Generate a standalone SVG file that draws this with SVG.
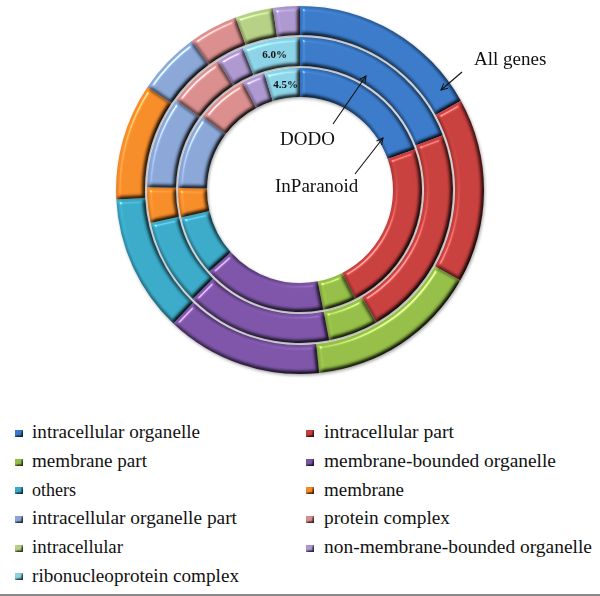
<svg xmlns="http://www.w3.org/2000/svg" width="600" height="596" viewBox="0 0 600 596">
<style>
text{font-family:"Liberation Serif","Times New Roman",serif;fill:#111}
.lg{font-size:18px}
.lab{font-size:19px}
.pct{font-size:11px;font-weight:bold}
.seg{filter:url(#bv)}
.sq{filter:url(#bvs)}
.c1{fill:#3A7AC9}.c2{fill:#C8403E}.c3{fill:#94BE46}.c4{fill:#7D55A8}.c5{fill:#3AAAC8}.c6{fill:#F58C2A}
.c7{fill:#8AA6D6}.c8{fill:#D98D8D}.c9{fill:#B5D084}.c10{fill:#AD97CF}.c11{fill:#8CD2E6}
.ar{stroke:#111;stroke-width:1.1;fill:none;marker-end:url(#ah)}
</style>
<defs>
<filter id="bv" x="-10%" y="-10%" width="120%" height="120%" color-interpolation-filters="sRGB">
<feGaussianBlur in="SourceAlpha" stdDeviation="2.2" result="b"/>
<feDiffuseLighting in="b" surfaceScale="4" diffuseConstant="1.155" lighting-color="#fff" result="d">
<feDistantLight azimuth="225" elevation="60"/>
</feDiffuseLighting>
<feComposite in="SourceGraphic" in2="d" operator="arithmetic" k1="1" result="sh"/>
<feSpecularLighting in="b" surfaceScale="4" specularConstant="0.45" specularExponent="40" lighting-color="#fff" result="s">
<feDistantLight azimuth="225" elevation="40"/>
</feSpecularLighting>
<feComposite in="s" in2="SourceAlpha" operator="in" result="si"/>
<feComposite in="sh" in2="si" operator="arithmetic" k2="1" k3="1"/>
</filter>
<filter id="bvs" x="-20%" y="-20%" width="140%" height="140%" color-interpolation-filters="sRGB">
<feGaussianBlur in="SourceAlpha" stdDeviation="0.8" result="b"/>
<feDiffuseLighting in="b" surfaceScale="2" diffuseConstant="1.155" lighting-color="#fff" result="d">
<feDistantLight azimuth="225" elevation="60"/>
</feDiffuseLighting>
<feComposite in="SourceGraphic" in2="d" operator="arithmetic" k1="1"/>
</filter>
<filter id="ds" x="-10%" y="-10%" width="120%" height="120%">
<feDropShadow dx="1" dy="1.5" stdDeviation="1.8" flood-color="#000" flood-opacity="0.35"/>
</filter>
<marker id="ah" viewBox="0 0 10 10" refX="9" refY="5" markerWidth="8" markerHeight="8" markerUnits="userSpaceOnUse" orient="auto">
<path d="M1,1 L9,5 L1,9" fill="none" stroke="#111" stroke-width="1.3"/>
</marker>
</defs>
<rect width="600" height="596" fill="#fff"/>
<g id="chart" filter="url(#ds)">
<g id="ring-all-genes">
<path class="seg c1" d="M300,6 A184,184 0 0 1 460.9,100.8 L435.6,114.9 A155,155 0 0 0 300,35 Z"/>
<path class="seg c2" d="M460.9,100.8 A184,184 0 0 1 460.2,280.6 L434.9,266.3 A155,155 0 0 0 435.6,114.9 Z"/>
<path class="seg c3" d="M460.2,280.6 A184,184 0 0 1 319.2,373 L316.2,344.1 A155,155 0 0 0 434.9,266.3 Z"/>
<path class="seg c4" d="M319.2,373 A184,184 0 0 1 173.3,323.5 L193.3,302.4 A155,155 0 0 0 316.2,344.1 Z"/>
<path class="seg c5" d="M173.3,323.5 A184,184 0 0 1 116.3,199.6 L145.2,198.1 A155,155 0 0 0 193.3,302.4 Z"/>
<path class="seg c6" d="M116.3,199.6 A184,184 0 0 1 147.5,87.1 L171.5,103.3 A155,155 0 0 0 145.2,198.1 Z"/>
<path class="seg c7" d="M147.5,87.1 A184,184 0 0 1 191.8,41.1 L208.9,64.6 A155,155 0 0 0 171.5,103.3 Z"/>
<path class="seg c8" d="M191.8,41.1 A184,184 0 0 1 235.6,17.6 L245.7,44.8 A155,155 0 0 0 208.9,64.6 Z"/>
<path class="seg c9" d="M235.6,17.6 A184,184 0 0 1 272.8,8 L277.1,36.7 A155,155 0 0 0 245.7,44.8 Z"/>
<path class="seg c10" d="M272.8,8 A184,184 0 0 1 300,6 L300,35 A155,155 0 0 0 277.1,36.7 Z"/>
</g>
<g id="ring-dodo">
<path class="seg c1" d="M300,37 A153,153 0 0 1 442.8,135.2 L415.8,145.6 A124,124 0 0 0 300,66 Z"/>
<path class="seg c2" d="M442.8,135.2 A153,153 0 0 1 376.5,322.5 L362,297.4 A124,124 0 0 0 415.8,145.6 Z"/>
<path class="seg c3" d="M376.5,322.5 A153,153 0 0 1 329.2,340.2 L323.7,311.7 A124,124 0 0 0 362,297.4 Z"/>
<path class="seg c4" d="M329.2,340.2 A153,153 0 0 1 192.8,299.1 L213.1,278.4 A124,124 0 0 0 323.7,311.7 Z"/>
<path class="seg c5" d="M192.8,299.1 A153,153 0 0 1 150.6,223.1 L178.9,216.8 A124,124 0 0 0 213.1,278.4 Z"/>
<path class="seg c6" d="M150.6,223.1 A153,153 0 0 1 147,187.3 L176,187.8 A124,124 0 0 0 178.9,216.8 Z"/>
<path class="seg c7" d="M147,187.3 A153,153 0 0 1 176.2,100.1 L199.7,117.1 A124,124 0 0 0 176,187.8 Z"/>
<path class="seg c8" d="M176.2,100.1 A153,153 0 0 1 217.8,61 L233.4,85.4 A124,124 0 0 0 199.7,117.1 Z"/>
<path class="seg c10" d="M217.8,61 A153,153 0 0 1 242.7,48.1 L253.5,75 A124,124 0 0 0 233.4,85.4 Z"/>
<path class="seg c11" d="M242.7,48.1 A153,153 0 0 1 300,37 L300,66 A124,124 0 0 0 253.5,75 Z"/>
</g>
<g id="ring-inparanoid">
<path class="seg c1" d="M300,68 A122,122 0 0 1 415,149.3 L387.7,159 A93,93 0 0 0 300,97 Z"/>
<path class="seg c2" d="M415,149.3 A122,122 0 0 1 355.4,298.7 L342.2,272.9 A93,93 0 0 0 387.7,159 Z"/>
<path class="seg c3" d="M355.4,298.7 A122,122 0 0 1 323.3,309.8 L317.7,281.3 A93,93 0 0 0 342.2,272.9 Z"/>
<path class="seg c4" d="M323.3,309.8 A122,122 0 0 1 209.3,271.6 L230.9,252.2 A93,93 0 0 0 317.7,281.3 Z"/>
<path class="seg c5" d="M209.3,271.6 A122,122 0 0 1 181.1,217.5 L209.4,210.9 A93,93 0 0 0 230.9,252.2 Z"/>
<path class="seg c6" d="M181.1,217.5 A122,122 0 0 1 178,187.9 L207,188.4 A93,93 0 0 0 209.4,210.9 Z"/>
<path class="seg c7" d="M178,187.9 A122,122 0 0 1 202.6,116.6 L225.7,134 A93,93 0 0 0 207,188.4 Z"/>
<path class="seg c8" d="M202.6,116.6 A122,122 0 0 1 242.7,82.3 L256.3,107.9 A93,93 0 0 0 225.7,134 Z"/>
<path class="seg c10" d="M242.7,82.3 A122,122 0 0 1 264.3,73.3 L272.8,101.1 A93,93 0 0 0 256.3,107.9 Z"/>
<path class="seg c11" d="M264.3,73.3 A122,122 0 0 1 300,68 L300,97 A93,93 0 0 0 272.8,101.1 Z"/>
</g>
</g>
<g id="pct-labels">
<text class="pct" x="274.5" y="58" text-anchor="middle">6.0%</text>
<text class="pct" x="285.5" y="88" text-anchor="middle">4.5%</text>
</g>
<g id="connectors">
<line class="ar" x1="462" y1="72" x2="441" y2="90"/>
<line class="ar" x1="333" y1="124" x2="366" y2="76"/>
<line class="ar" x1="355" y1="174" x2="383" y2="138"/>
</g>
<g id="label-all-genes"><text class="lab" x="474" y="65">All genes</text></g>
<g id="label-dodo"><text class="lab" x="280" y="145">DODO</text></g>
<g id="label-inparanoid"><text class="lab" x="275" y="192">InParanoid</text></g>
<g id="legend">
<rect class="sq c1" x="15" y="430" width="8" height="7"/>
<text class="lg" x="32" y="438" textLength="168" lengthAdjust="spacingAndGlyphs">intracellular organelle</text>
<rect class="sq c3" x="15" y="459" width="8" height="7"/>
<text class="lg" x="32" y="467" textLength="115" lengthAdjust="spacingAndGlyphs">membrane part</text>
<rect class="sq c5" x="15" y="487" width="8" height="7"/>
<text class="lg" x="32" y="495.5" textLength="44" lengthAdjust="spacingAndGlyphs">others</text>
<rect class="sq c7" x="15" y="516" width="8" height="7"/>
<text class="lg" x="32" y="524" textLength="205" lengthAdjust="spacingAndGlyphs">intracellular organelle part</text>
<rect class="sq c9" x="15" y="545" width="8" height="7"/>
<text class="lg" x="32" y="553" textLength="91" lengthAdjust="spacingAndGlyphs">intracellular</text>
<rect class="sq c11" x="15" y="573" width="8" height="7"/>
<text class="lg" x="32" y="581.5" textLength="207" lengthAdjust="spacingAndGlyphs">ribonucleoprotein complex</text>
<rect class="sq c2" x="306" y="430" width="8" height="7"/>
<text class="lg" x="324" y="438" textLength="130" lengthAdjust="spacingAndGlyphs">intracellular part</text>
<rect class="sq c4" x="306" y="459" width="8" height="7"/>
<text class="lg" x="324" y="467" textLength="232" lengthAdjust="spacingAndGlyphs">membrane-bounded organelle</text>
<rect class="sq c6" x="306" y="487" width="8" height="7"/>
<text class="lg" x="324" y="495.5" textLength="80" lengthAdjust="spacingAndGlyphs">membrane</text>
<rect class="sq c8" x="306" y="516" width="8" height="7"/>
<text class="lg" x="324" y="524" textLength="126" lengthAdjust="spacingAndGlyphs">protein complex</text>
<rect class="sq c10" x="306" y="545" width="8" height="7"/>
<text class="lg" x="324" y="553" textLength="268" lengthAdjust="spacingAndGlyphs">non-membrane-bounded organelle</text>
</g>
<rect id="bottom-rule" x="0" y="594" width="600" height="2" fill="#8a8a8a"/>
</svg>
